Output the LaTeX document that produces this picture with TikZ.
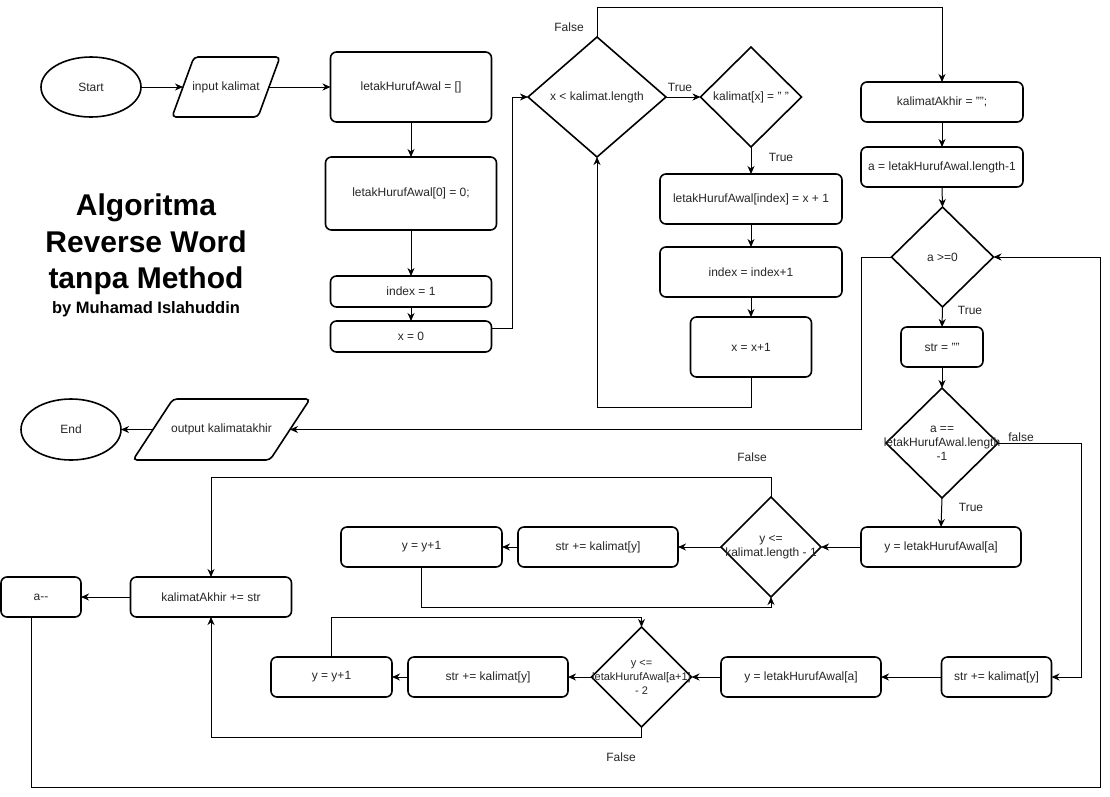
\documentclass[tikz,border=0pt]{standalone}
\usepackage{fontspec}
\setmainfont{Liberation Sans}
\usetikzlibrary{shapes.geometric,arrows.meta}
\tikzset{
  txt/.style={font=\fontsize{12}{14}\selectfont, text=black!85, align=center, inner sep=0pt},
  shp/.style={draw=black, line width=1.6pt},
  box/.style={shp, txt, rectangle, rounded corners=6pt, outer sep=0pt},
  iobox/.style={txt, rectangle, outer sep=0pt},
  term/.style={shp, txt, ellipse, outer sep=0pt},
  dia/.style={shp, diamond, inner sep=0pt, outer sep=0pt},
  ttl/.style={font=\bfseries\fontsize{30}{36}\selectfont, anchor=base, inner sep=0pt},
  arr/.style={draw=black, line width=1pt, -{Stealth[length=8pt,width=7pt,inset=2.5pt]}},
}
\begin{document}
\begin{tikzpicture}[x=1pt,y=-1pt]
\path[fill=white] (0,0) rectangle (1110,796);
\useasboundingbox (0,0) rectangle (1110,796);

% title
\node[ttl] (t1) at (146,215) {Algoritma};
\node[ttl] (t2) at (146,252) {Reverse Word};
\node[ttl] (t3) at (146,288) {tanpa Method};
\node[ttl, font=\bfseries\fontsize{16.5}{20}\selectfont] (t4) at (146,313) {by Muhamad Islahuddin};

% top row
\node[term, minimum width=100pt, minimum height=60pt] (start) at (91,87) {Start};
\node[iobox, minimum width=86pt, minimum height=60pt] (inp) at (226,87) {input kalimat};
\draw[shp, rounded corners=4pt] ([xshift=-11pt]inp.south west) -- ([xshift=11pt]inp.north west) -- ([xshift=11pt]inp.north east) -- ([xshift=-11pt]inp.south east) -- cycle;
\node[box, minimum width=161pt, minimum height=70pt] (lha0) at (411,87) {letakHurufAwal = []};
\node[box, minimum width=171pt, minimum height=73pt] (lha1) at (411,193.5) {letakHurufAwal[0] = 0;};
\node[box, minimum width=161pt, minimum height=31pt] (idx1) at (411,291.5) {index = 1};
\node[box, minimum width=161pt, minimum height=31pt] (x0) at (411,336.5) {x = 0};

\node[dia, minimum width=138pt, minimum height=120pt] (d1) at (597,97) {};
\node[txt] (d1t) at (d1) {x < kalimat.length};
\node[dia, minimum width=101pt, minimum height=100pt] (d2) at (751,97) {};
\node[txt] (d2t) at (d2) {kalimat[x] = " "};
\node[box, minimum width=182pt, minimum height=50pt] (setidx) at (751,199) {letakHurufAwal[index] = x + 1};
\node[box, minimum width=182pt, minimum height=50pt] (incidx) at (751,272) {index = index+1};
\node[box, minimum width=121pt, minimum height=60pt] (incx) at (751,347) {x = x+1};

\node[box, minimum width=162pt, minimum height=40pt] (kak) at (942,102) {kalimatAkhir = "";};
\node[box, minimum width=162pt, minimum height=40pt] (aset) at (942,167) {a = letakHurufAwal.length-1};
\node[dia, minimum width=102pt, minimum height=100pt] (d3) at (942.5,257) {};
\node[txt] (d3t) at (d3) {a >=0};
\node[box, minimum width=82pt, minimum height=40pt] (str0) at (942,347) {str = ""};
\node[dia, minimum width=112pt, minimum height=110pt] (d4) at (942,443) {};
\node[txt] (d4t) at (d4) {a ==\\letakHurufAwal.length\\-1};

% output / end
\node[iobox, minimum width=137pt, minimum height=61pt] (out) at (221.5,429.5) {output kalimatakhir};
\draw[shp, rounded corners=4pt] ([xshift=-20pt]out.south west) -- ([xshift=20pt]out.north west) -- ([xshift=20pt]out.north east) -- ([xshift=-20pt]out.south east) -- cycle;
\node[term, minimum width=100pt, minimum height=61pt] (endn) at (71,429.5) {End};

% middle row
\node[box, minimum width=160pt, minimum height=40pt] (yset1) at (941,547) {y = letakHurufAwal[a]};
\node[dia, minimum width=100pt, minimum height=100pt] (d5) at (771,547) {};
\node[txt] (d5t) at (d5) {y <=\\kalimat.length - 1};
\node[box, minimum width=160pt, minimum height=40pt] (stradd1) at (598,547) {str += kalimat[y]};
\node[box, minimum width=161pt, minimum height=40pt] (yinc1) at (421.5,547) {y = y+1};
\node[box, minimum width=161pt, minimum height=40pt] (kadd) at (211,597) {kalimatAkhir += str};
\node[box, minimum width=80pt, minimum height=40pt] (adec) at (41,597) {a\hbox{-}\hbox{-}};

% bottom row
\node[box, minimum width=110pt, minimum height=40pt] (stradd2) at (996.5,677) {str += kalimat[y]};
\node[box, minimum width=160pt, minimum height=40pt] (yset2) at (801,677) {y = letakHurufAwal[a]};
\node[dia, minimum width=100pt, minimum height=100pt] (d6) at (641.5,677) {};
\node[txt, font=\fontsize{11}{14}\selectfont] (d6t) at (d6) {y <=\\letakHurufAwal[a+1]\\- 2};
\node[box, minimum width=160pt, minimum height=40pt] (stradd3) at (488,677) {str += kalimat[y]};
\node[box, minimum width=121pt, minimum height=40pt] (yinc2) at (331.5,677) {y = y+1};

% labels
\node[txt] (lf1) at (569,27) {False};
\node[txt] (lt1) at (680,87) {True};
\node[txt] (lt2) at (781,157) {True};
\node[txt] (lt3) at (970,310) {True};
\node[txt] (lf2) at (1021,437) {false};
\node[txt] (lt4) at (971,507) {True};
\node[txt] (lf3) at (752,457) {False};
\node[txt] (lf4) at (621,757) {False};

% connectors
\draw[arr] (start) -- (inp.west);
\draw[arr] (inp.east) -- (lha0.west);
\draw[arr] (lha0.south) -- (lha1.north);
\draw[arr] (lha1.south) -- (idx1.north);
\draw[arr] (idx1.south) -- (x0.north);
\draw[arr] ([yshift=8pt]x0.east) -- ++(21,0) |- (d1.west);
\draw[arr] (d1.east) -- (d2.west);
\draw[arr] (d2.south) -- (setidx.north);
\draw[arr] (setidx.south) -- (incidx.north);
\draw[arr] (incidx.south) -- (incx.north);
\draw[arr] (incx.south) -- ++(0,30) -| (d1.south);
\draw[arr] (d1.north) -- ++(0,-30) -| (kak.north);
\draw[arr] (kak.south) -- (aset.north);
\draw[arr] (aset.south) -- (d3.north);
\draw[arr] (d3.south) -- (str0.north);
\draw[arr] (str0.south) -- (d4.north);
\draw[arr] (d3.west) -- ++(-30,0) |- (out.east);
\draw[arr] (out.west) -- (endn.east);
\draw[arr] (d4.south) -- (yset1.north);
\draw[arr] (yset1.west) -- (d5.east);
\draw[arr] (d5.west) -- (stradd1.east);
\draw[arr] (stradd1.west) -- (yinc1.east);
\draw[arr] (yinc1.south) -- ++(0,40) -| (d5.south);
\draw[arr] (d5.north) -- ++(0,-20) -| (kadd.north);
\draw[arr] (d4.east) -- ++(83,0) |- (stradd2.east);
\draw[arr] (stradd2.west) -- (yset2.east);
\draw[arr] (yset2.west) -- (d6.east);
\draw[arr] (d6.west) -- (stradd3.east);
\draw[arr] (stradd3.west) -- (yinc2.east);
\draw[arr] (yinc2.north) -- ++(0,-40) -| (d6.north);
\draw[arr] (d6.south) -- ++(0,10) -| (kadd.south);
\draw[arr] (kadd.west) -- (adec.east);
\draw[arr] ([xshift=-10pt]adec.south) -- ++(0,170) -| ([xshift=106.5pt]d3.east) -- (d3.east);
\end{tikzpicture}
\end{document}
